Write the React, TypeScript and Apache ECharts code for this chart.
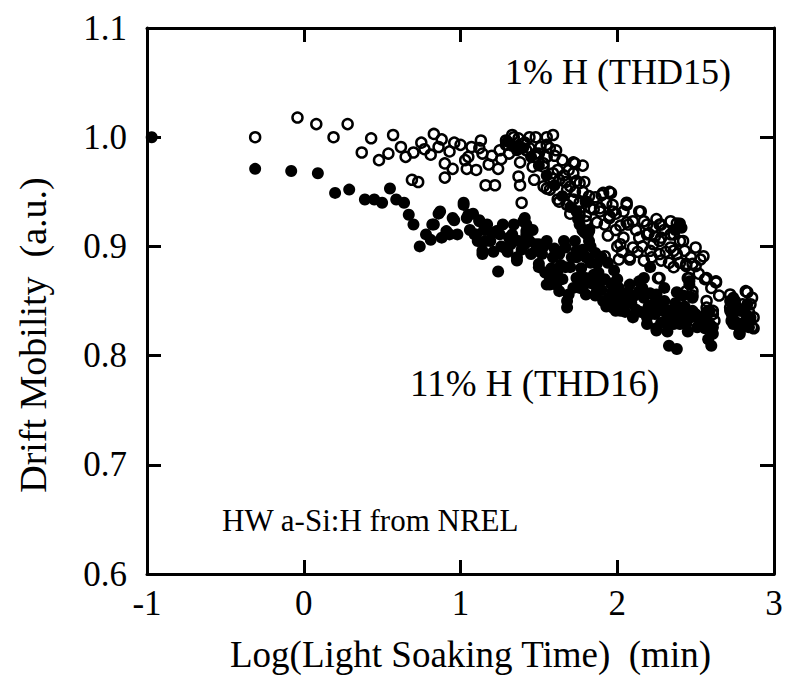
import React, { useEffect, useRef } from "react";
import * as echarts from "echarts";

const xTicks = [-1, 0, 1, 2, 3];
const yTicks = [0.6, 0.7, 0.8, 0.9, 1.0, 1.1];

// 1% H (THD15) - open circles
const thd15: [number, number][] = [
  [-0.31, 1.0], [-0.04, 1.018], [0.08, 1.012], [0.19, 1.0], [0.28, 1.012], [0.37, 0.986], [0.43, 0.999],
  [0.48, 0.979], [0.54, 0.985], [0.57, 1.002], [0.62, 0.991], [0.65, 0.982], [0.69, 0.961], [0.73, 0.959],
  [0.7, 0.986], [0.75, 0.995], [0.77, 0.989], [0.81, 0.984], [0.83, 1.003], [0.88, 0.998], [0.86, 0.991],
  [0.9, 0.976], [0.93, 0.987], [0.96, 0.995], [0.95, 0.971], [0.9, 0.963], [1.0, 0.993], [1.03, 0.979],
  [1.04, 0.971], [1.05, 0.982], [1.07, 0.991], [1.1, 0.97], [1.13, 0.997], [1.14, 0.985], [1.16, 0.956],
  [1.2, 0.983], [1.22, 0.956], [1.24, 0.971], [1.25, 0.988], [1.29, 0.993], [1.29, 0.997], [1.33, 1.002],
  [1.34, 1.0], [1.37, 0.999], [1.38, 0.977], [1.37, 0.964], [1.38, 0.956], [1.39, 0.94], [1.4, 0.994],
  [1.41, 0.995], [1.42, 0.988], [1.44, 1.0], [1.46, 0.973], [1.47, 0.961], [1.48, 0.985], [1.48, 0.982],
  [1.48, 1.0], [1.51, 0.991], [1.53, 0.976], [1.53, 0.973], [1.53, 0.955], [1.55, 0.993], [1.55, 0.982],
  [1.55, 1.0], [1.55, 0.953], [1.57, 0.952], [1.59, 1.002], [1.59, 0.967], [1.59, 0.962], [1.6, 0.983],
  [1.61, 0.988], [1.62, 0.943], [1.63, 0.961], [1.63, 0.941], [1.65, 0.979], [1.67, 0.959], [1.68, 0.952],
  [1.68, 0.938], [1.7, 0.93], [1.72, 0.977], [1.72, 0.967], [1.72, 0.943], [1.73, 0.95], [1.73, 0.976],
  [1.76, 0.958], [1.76, 0.94], [1.76, 0.932], [1.76, 0.928], [1.78, 0.974], [1.78, 0.915], [1.79, 0.959],
  [1.8, 0.941], [1.8, 0.928], [1.8, 0.923], [1.81, 0.911], [1.82, 0.946], [1.82, 0.915], [1.85, 0.934],
  [1.87, 0.922], [1.89, 0.935], [1.89, 0.932], [1.9, 0.947], [1.91, 0.949], [1.92, 0.891], [1.93, 0.94],
  [1.95, 0.95], [1.95, 0.926], [1.95, 0.928], [1.96, 0.949], [1.97, 0.938], [1.97, 0.932], [1.99, 0.93],
  [2.01, 0.888], [2.02, 0.919], [2.02, 0.902], [2.04, 0.932], [2.04, 0.908], [2.06, 0.94], [2.06, 0.938],
  [2.06, 0.922], [2.07, 0.92], [2.08, 0.888], [2.08, 0.89], [2.1, 0.923], [2.1, 0.899], [2.14, 0.932],
  [2.14, 0.908], [2.15, 0.932], [2.17, 0.923], [2.17, 0.887], [2.19, 0.92], [2.19, 0.911], [2.2, 0.912],
  [2.21, 0.896], [2.23, 0.917], [2.23, 0.902], [2.24, 0.909], [2.26, 0.871], [2.27, 0.92], [2.27, 0.905],
  [2.27, 0.893], [2.27, 0.871], [2.28, 0.92], [2.28, 0.908], [2.28, 0.887], [2.34, 0.923], [2.34, 0.911],
  [2.34, 0.899], [2.36, 0.911], [2.36, 0.896], [2.36, 0.881], [2.38, 0.921], [2.38, 0.893], [2.4, 0.905],
  [2.43, 0.896], [2.44, 0.884], [2.44, 0.882], [2.44, 0.859], [2.45, 0.871], [2.46, 0.871], [2.48, 0.884],
  [2.48, 0.859], [2.48, 0.855], [2.5, 0.899], [2.5, 0.882], [2.55, 0.891], [2.56, 0.87], [2.57, 0.871],
  [2.57, 0.85], [2.57, 0.844], [2.61, 0.841], [2.61, 0.838], [2.62, 0.832], [2.63, 0.868], [2.63, 0.867],
  [2.72, 0.856], [2.72, 0.844], [2.73, 0.832], [2.78, 0.82], [2.79, 0.838], [2.8, 0.847], [2.82, 0.859],
  [2.83, 0.858], [2.85, 0.847], [2.86, 0.853], [2.86, 0.826], [2.87, 0.835], [2.87, 0.825],
  [1.12, 0.99], [1.18, 0.975], [1.26, 0.98], [1.31, 0.985], [1.44, 0.99], [1.5, 0.985], [1.57, 0.99],
  [1.62, 0.97], [1.66, 0.965], [1.69, 0.97], [1.7, 0.955], [1.74, 0.96], [1.78, 0.95], [1.83, 0.935],
  [1.86, 0.945], [1.92, 0.92], [1.94, 0.91], [1.99, 0.915], [2.0, 0.9], [2.03, 0.895], [2.12, 0.915],
  [2.13, 0.895], [2.16, 0.9], [2.22, 0.89], [2.25, 0.925], [2.3, 0.915], [2.31, 0.895], [2.33, 0.885],
  [2.4, 0.885], [2.42, 0.905], [2.47, 0.89], [2.52, 0.875], [2.53, 0.888], [2.6, 0.862], [2.65, 0.855],
  [2.75, 0.85], [2.77, 0.843], [2.84, 0.84], [2.81, 0.83],
];

// 11% H (THD16) - filled circles
const thd16: [number, number][] = [
  [-0.97, 1.0], [-0.31, 0.971], [-0.08, 0.969], [0.09, 0.967], [0.2, 0.949], [0.29, 0.952], [0.39, 0.943],
  [0.45, 0.943], [0.5, 0.94], [0.55, 0.953], [0.59, 0.943], [0.64, 0.94], [0.67, 0.929], [0.7, 0.92],
  [0.74, 0.9], [0.78, 0.911], [0.81, 0.906], [0.82, 0.92], [0.83, 0.92], [0.86, 0.93], [0.87, 0.932],
  [0.88, 0.908], [0.91, 0.914], [0.93, 0.911], [0.95, 0.926], [0.96, 0.924], [0.98, 0.911], [1.02, 0.938],
  [1.02, 0.94], [1.04, 0.926], [1.05, 0.929], [1.09, 0.911], [1.1, 0.911], [1.12, 0.923], [1.12, 0.924],
  [1.14, 0.893], [1.14, 0.896], [1.16, 0.905], [1.19, 0.905], [1.23, 0.914], [1.24, 0.877], [1.25, 0.911],
  [1.28, 0.899], [1.31, 0.908], [1.33, 0.911], [1.36, 0.89], [1.36, 0.887], [1.4, 0.923], [1.41, 0.926],
  [1.41, 0.902], [1.42, 0.914], [1.42, 0.911], [1.42, 0.92], [1.48, 0.902], [1.48, 0.896], [1.5, 0.902],
  [1.5, 0.881], [1.5, 0.884], [1.55, 0.905], [1.55, 0.865], [1.57, 0.871], [1.57, 0.865], [1.59, 0.89],
  [1.61, 0.865], [1.62, 0.878], [1.63, 0.893], [1.63, 0.859], [1.67, 0.899], [1.67, 0.881], [1.68, 0.85],
  [1.68, 0.844], [1.69, 0.856], [1.7, 0.881], [1.74, 0.89], [1.74, 0.896], [1.74, 0.871], [1.74, 0.932],
  [1.76, 0.92], [1.76, 0.871], [1.76, 0.862], [1.8, 0.941], [1.8, 0.89], [1.8, 0.871], [1.8, 0.856],
  [1.82, 0.905], [1.82, 0.914], [1.85, 0.874], [1.87, 0.884], [1.87, 0.865], [1.87, 0.859], [1.89, 0.868],
  [1.91, 0.85], [1.95, 0.853], [1.97, 0.859], [1.97, 0.844], [1.99, 0.841], [2.02, 0.841], [2.02, 0.856],
  [2.04, 0.847], [2.06, 0.853], [2.08, 0.865], [2.1, 0.835], [2.14, 0.868], [2.14, 0.859], [2.17, 0.853],
  [2.17, 0.871], [2.19, 0.829], [2.19, 0.835], [2.21, 0.881], [2.23, 0.847], [2.25, 0.823], [2.25, 0.85],
  [2.25, 0.856], [2.25, 0.825], [2.29, 0.841], [2.31, 0.832], [2.33, 0.841], [2.33, 0.809], [2.36, 0.841],
  [2.36, 0.829], [2.38, 0.806], [2.4, 0.835], [2.4, 0.829], [2.4, 0.921], [2.44, 0.838], [2.44, 0.829],
  [2.46, 0.865], [2.46, 0.868], [2.48, 0.853], [2.48, 0.841], [2.53, 0.832], [2.53, 0.829], [2.59, 0.841],
  [2.59, 0.829], [2.6, 0.809], [2.61, 0.826], [2.61, 0.82], [2.72, 0.841], [2.72, 0.85], [2.74, 0.853],
  [2.74, 0.832], [2.74, 0.829], [2.78, 0.841], [2.78, 0.821], [2.8, 0.841], [2.8, 0.829], [2.83, 0.847],
  [2.85, 0.832], [2.85, 0.835],
  [1.06, 0.915], [1.08, 0.93], [1.11, 0.905], [1.15, 0.915], [1.17, 0.92], [1.2, 0.912], [1.21, 0.895],
  [1.26, 0.9], [1.27, 0.92], [1.3, 0.895], [1.32, 0.902], [1.34, 0.92], [1.37, 0.905], [1.39, 0.897],
  [1.44, 0.905], [1.45, 0.893], [1.46, 0.915], [1.52, 0.893], [1.53, 0.9], [1.54, 0.876], [1.58, 0.88],
  [1.6, 0.898], [1.6, 0.875], [1.64, 0.883], [1.65, 0.87], [1.66, 0.905], [1.71, 0.89], [1.72, 0.862],
  [1.73, 0.905], [1.77, 0.88], [1.78, 0.897], [1.79, 0.865], [1.83, 0.885], [1.84, 0.866], [1.86, 0.855],
  [1.88, 0.876], [1.9, 0.86], [1.92, 0.87], [1.93, 0.845], [1.96, 0.866], [2.0, 0.85], [2.01, 0.862],
  [2.05, 0.84], [2.07, 0.858], [2.09, 0.848], [2.11, 0.855], [2.12, 0.842], [2.15, 0.84], [2.16, 0.862],
  [2.2, 0.845], [2.21, 0.857], [2.24, 0.838], [2.27, 0.845], [2.28, 0.83], [2.3, 0.85], [2.32, 0.822],
  [2.35, 0.835], [2.37, 0.848], [2.39, 0.842], [2.42, 0.832], [2.43, 0.845], [2.45, 0.822], [2.47, 0.835],
  [2.5, 0.838], [2.51, 0.826], [2.55, 0.835], [2.56, 0.825], [2.57, 0.84], [2.58, 0.815], [2.73, 0.838],
  [2.76, 0.845], [2.77, 0.828], [2.82, 0.838], [2.84, 0.826],
  [1.9, 0.89], [1.94, 0.885], [1.98, 0.878], [2.0, 0.87], [2.3, 0.862], [2.38, 0.858], [2.42, 0.855],
  [2.37, 0.915], [2.41, 0.917],
  [1.3, 0.996], [1.33, 0.992], [1.36, 0.988], [1.4, 0.99], [1.45, 0.982], [1.5, 0.974], [1.55, 0.965],
  [1.6, 0.956], [1.65, 0.946], [1.7, 0.936], [1.75, 0.925], [1.79, 0.913], [1.83, 0.9], [1.86, 0.894],
];

const serif = "'Liberation Serif', 'Times New Roman', serif";

export default function App() {
  const ref = useRef<HTMLDivElement>(null);
  useEffect(() => {
    document.body.style.margin = "0";
    const chart = echarts.init(ref.current!, null, { renderer: "svg" });
    const axisLine = { onZero: false, lineStyle: { color: "#000", width: 3 } };
    const axisTick = { inside: true, length: 14, lineStyle: { color: "#000", width: 3 } };
    chart.setOption({
      animation: false,
      backgroundColor: "#fff",
      grid: { left: 147, right: 17, top: 28, bottom: 112, containLabel: false },
      xAxis: [
        {
          type: "value",
          min: xTicks[0],
          max: xTicks[xTicks.length - 1],
          interval: 1,
          axisLine,
          axisTick,
          splitLine: { show: false },
          axisLabel: { color: "#000", fontFamily: serif, fontSize: 35, margin: 12 },
          name: "Log(Light Soaking Time)  (min)",
          nameLocation: "middle",
          nameGap: 62,
          nameTextStyle: { color: "#000", fontFamily: serif, fontSize: 37, padding: [0, 0, 0, 20] },
        },
        {
          type: "value",
          position: "top",
          min: xTicks[0],
          max: xTicks[xTicks.length - 1],
          interval: 1,
          axisLine,
          axisTick,
          splitLine: { show: false },
          axisLabel: { show: false },
        },
      ],
      yAxis: [
        {
          type: "value",
          min: yTicks[0],
          max: yTicks[yTicks.length - 1],
          interval: 0.1,
          axisLine,
          axisTick,
          splitLine: { show: false },
          axisLabel: {
            color: "#000",
            fontFamily: serif,
            fontSize: 35,
            margin: 20,
            formatter: (v: number) => v.toFixed(1),
          },
        },
        {
          type: "value",
          position: "right",
          min: yTicks[0],
          max: yTicks[yTicks.length - 1],
          interval: 0.1,
          axisLine,
          axisTick,
          splitLine: { show: false },
          axisLabel: { show: false },
        },
      ],
      series: [
        {
          name: "11% H (THD16)",
          type: "scatter",
          data: thd16,
          symbol: "circle",
          symbolSize: 12,
          itemStyle: { color: "#000", opacity: 1 },
        },
        {
          name: "1% H (THD15)",
          type: "scatter",
          data: thd15,
          symbol: "circle",
          symbolSize: 10,
          itemStyle: { color: "rgba(255,255,255,0)", borderColor: "#000", borderWidth: 2.5, opacity: 1 },
        },
      ],
      graphic: [
        {
          type: "text",
          x: 33,
          y: 335,
          rotation: Math.PI / 2,
          style: {
            text: "Drift Mobility  (a.u.)",
            fill: "#000",
            fontFamily: serif,
            fontSize: 38,
            align: "center",
            verticalAlign: "middle",
          },
        },
        {
          type: "text",
          x: 505,
          y: 72,
          style: { text: "1% H (THD15)", fill: "#000", fontFamily: serif, fontSize: 36, verticalAlign: "middle" },
        },
        {
          type: "text",
          x: 410,
          y: 383,
          style: { text: "11% H (THD16)", fill: "#000", fontFamily: serif, fontSize: 37, verticalAlign: "middle" },
        },
        {
          type: "text",
          x: 222,
          y: 520,
          style: { text: "HW a-Si:H from NREL", fill: "#000", fontFamily: serif, fontSize: 31, verticalAlign: "middle" },
        },
      ],
    });
    return () => chart.dispose();
  }, []);
  return <div ref={ref} style={{ width: 791, height: 686 }} />;
}
